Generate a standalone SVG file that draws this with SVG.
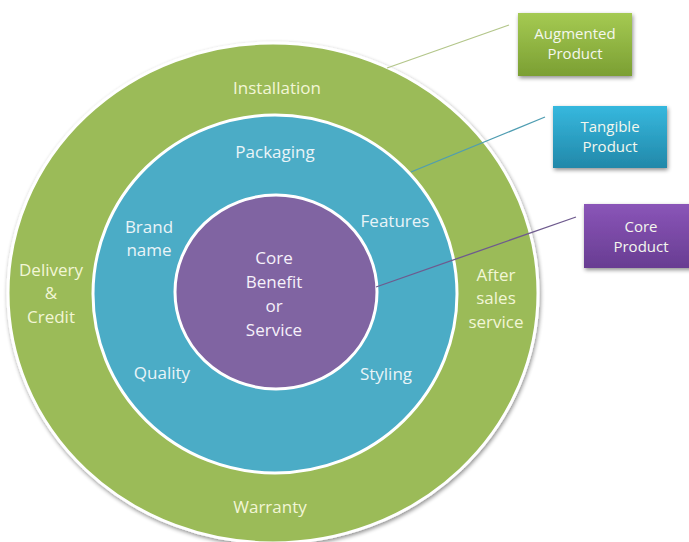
<svg xmlns="http://www.w3.org/2000/svg" width="689" height="542" viewBox="0 0 689 542">
  <defs>
    <filter id="sh" x="-10%" y="-10%" width="125%" height="125%">
      <feGaussianBlur in="SourceAlpha" stdDeviation="2"/>
      <feOffset dx="1" dy="2" result="b"/>
      <feComponentTransfer><feFuncA type="linear" slope="0.45"/></feComponentTransfer>
      <feMerge><feMergeNode/><feMergeNode in="SourceGraphic"/></feMerge>
    </filter>
    <linearGradient id="gGreen" x1="0" y1="0" x2="0" y2="1">
      <stop offset="0" stop-color="#a5ca52"/>
      <stop offset="1" stop-color="#7b9f33"/>
    </linearGradient>
    <linearGradient id="gBlue" x1="0" y1="0" x2="0" y2="1">
      <stop offset="0" stop-color="#36b8de"/>
      <stop offset="1" stop-color="#2288a9"/>
    </linearGradient>
    <linearGradient id="gPurple" x1="0" y1="0" x2="0" y2="1">
      <stop offset="0" stop-color="#8a55b8"/>
      <stop offset="1" stop-color="#683d92"/>
    </linearGradient>
  </defs>
  <style>
    .ring { stroke: #ffffff; stroke-width: 3; }
    .t { font-family: "Open Sans", "Liberation Sans", sans-serif; font-size: 17px; text-anchor: middle; }
    .tg { fill: #f2f6d6; }
    .tb { fill: #e9f4f8; }
    .tp { fill: #f6f1fa; }
    .bt { font-family: "Open Sans", "Liberation Sans", sans-serif; font-size: 15px; text-anchor: middle; fill: #f4f7ee; }
    .conn { fill: none; stroke-width: 1.3; }
  </style>
  <rect width="689" height="542" fill="#ffffff"/>

  <g id="augmented-ring">
    <ellipse cx="273" cy="293" rx="265" ry="250" fill="#9bbb59" class="ring" filter="url(#sh)"/>
    <text class="t tg" x="277" y="94">Installation</text>
    <text class="t tg" x="51" y="276">Delivery</text>
    <text class="t tg" x="51" y="299">&amp;</text>
    <text class="t tg" x="51" y="323">Credit</text>
    <text class="t tg" x="496" y="281">After</text>
    <text class="t tg" x="496" y="304">sales</text>
    <text class="t tg" x="496" y="328">service</text>
    <text class="t tg" x="270" y="513">Warranty</text>
  </g>

  <g id="tangible-ring">
    <ellipse cx="275" cy="294" rx="182" ry="179" fill="#4bacc6" class="ring"/>
    <text class="t tb" x="275" y="158">Packaging</text>
    <text class="t tb" x="149" y="233">Brand</text>
    <text class="t tb" x="149" y="256">name</text>
    <text class="t tb" x="395" y="227">Features</text>
    <text class="t tb" x="162" y="379">Quality</text>
    <text class="t tb" x="386" y="380">Styling</text>
  </g>

  <g id="core-ring">
    <ellipse cx="276" cy="292" rx="101" ry="97" fill="#8064a2" class="ring"/>
    <text class="t tp" x="274" y="264">Core</text>
    <text class="t tp" x="274" y="288">Benefit</text>
    <text class="t tp" x="274" y="312">or</text>
    <text class="t tp" x="274" y="336">Service</text>
  </g>

  <g id="connectors">
    <line class="conn" x1="387" y1="68" x2="509" y2="25" stroke="#b3c68a"/>
    <line class="conn" x1="411" y1="172" x2="545" y2="117" stroke="#4f9db2"/>
    <line class="conn" x1="376" y1="287" x2="576" y2="217" stroke="#6e5a8e"/>
  </g>

  <g id="box-augmented">
    <rect x="518" y="13" width="114" height="63" fill="url(#gGreen)" filter="url(#sh)"/>
    <text class="bt" x="575" y="39">Augmented</text>
    <text class="bt" x="575" y="59">Product</text>
  </g>

  <g id="box-tangible">
    <rect x="553" y="106" width="114" height="62" fill="url(#gBlue)" filter="url(#sh)"/>
    <text class="bt" x="610" y="132">Tangible</text>
    <text class="bt" x="610" y="152">Product</text>
  </g>

  <g id="box-core">
    <rect x="584" y="204" width="114" height="64" fill="url(#gPurple)" filter="url(#sh)"/>
    <text class="bt" x="641" y="232">Core</text>
    <text class="bt" x="641" y="252">Product</text>
  </g>
</svg>
